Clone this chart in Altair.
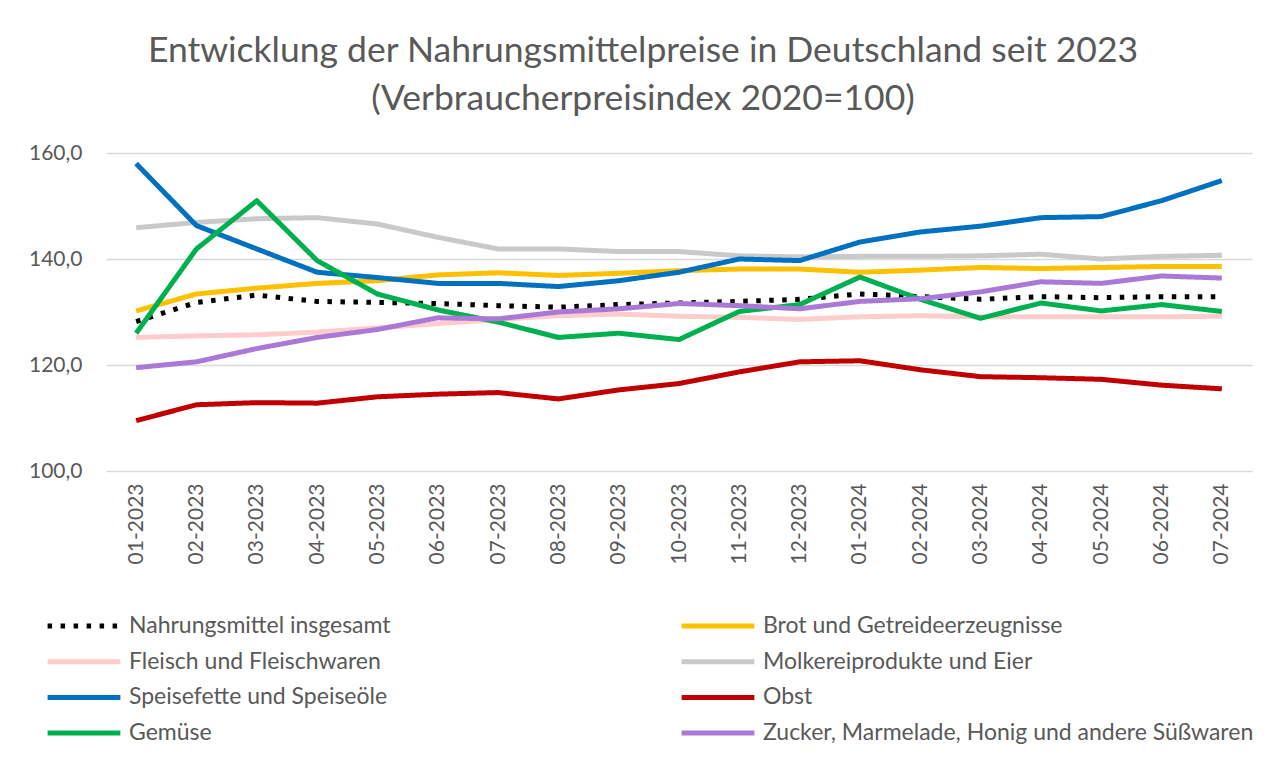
import altair as alt
import pandas as pd

months = ["01-2023", "02-2023", "03-2023", "04-2023", "05-2023", "06-2023", "07-2023",
          "08-2023", "09-2023", "10-2023", "11-2023", "12-2023", "01-2024", "02-2024",
          "03-2024", "04-2024", "05-2024", "06-2024", "07-2024"]

series_names = [
    "Nahrungsmittel insgesamt",
    "Brot und Getreideerzeugnisse",
    "Fleisch und Fleischwaren",
    "Molkereiprodukte und Eier",
    "Speisefette und Speiseöle",
    "Obst",
    "Gemüse",
    "Zucker, Marmelade, Honig und andere Süßwaren",
]

nahrungsmittel = [128.2, 131.8, 133.2, 132.0, 131.8, 131.6, 131.2, 130.9, 131.4, 131.7,
                  132.0, 132.4, 133.4, 132.9, 132.4, 132.9, 132.7, 132.9, 132.9]
brot = [130.2, 133.4, 134.5, 135.4, 135.9, 137.0, 137.4, 136.9, 137.3, 137.8,
        138.1, 138.1, 137.5, 137.9, 138.4, 138.2, 138.4, 138.6, 138.6]
fleisch = [125.2, 125.5, 125.7, 126.2, 127.0, 127.8, 128.6, 129.3, 129.6, 129.2,
           129.0, 128.6, 129.1, 129.3, 129.1, 129.1, 129.1, 129.1, 129.2]
molkerei = [145.9, 146.9, 147.6, 147.8, 146.6, 144.1, 141.9, 141.9, 141.4, 141.4,
            140.6, 140.4, 140.5, 140.5, 140.6, 140.9, 140.0, 140.5, 140.7]
speisefette = [158.0, 146.3, 141.9, 137.5, 136.5, 135.4, 135.4, 134.8, 135.9, 137.5,
               140.0, 139.7, 143.2, 145.1, 146.2, 147.8, 148.0, 151.0, 154.8]
obst = [109.5, 112.5, 112.9, 112.8, 114.0, 114.5, 114.8, 113.6, 115.3, 116.5,
        118.7, 120.6, 120.8, 119.1, 117.8, 117.6, 117.3, 116.2, 115.5]
gemuese = [126.0, 141.9, 151.0, 139.7, 133.4, 130.4, 128.1, 125.2, 126.0, 124.8,
           130.1, 131.4, 136.6, 132.4, 128.8, 131.7, 130.2, 131.4, 130.1]
zucker = [119.5, 120.6, 123.1, 125.2, 126.7, 128.9, 128.7, 130.0, 130.6, 131.6,
          131.2, 130.6, 132.0, 132.5, 133.8, 135.7, 135.4, 136.8, 136.4]

series_values = [nahrungsmittel, brot, fleisch, molkerei, speisefette, obst, gemuese, zucker]
colors = ["#000000", "#FFC000", "#FFCCCC", "#C9C9C9", "#0070C0", "#C00000", "#00B050", "#AA78D6"]
dashes = [[4.5, 8.5]] + [[1, 0]] * 7
y_ticks = [100, 120, 140, 160]

rows = []
for name, vals in zip(series_names, series_values):
    for m, v in zip(months, vals):
        rows.append({"Monat": m, "Reihe": name, "Wert": v})
df = pd.DataFrame(rows)

FONT = "Lato"
TXT = "#595959"

legend = alt.Legend(
    title=None,
    orient="none",
    direction="horizontal",
    legendX=-61,
    legendY=458,
    columns=2,
    columnPadding=288,
    rowPadding=5.7,
    clipHeight=30,
    symbolType="stroke",
    symbolSize=5300,
    symbolStrokeWidth=5,
    labelFont=FONT,
    labelFontSize=23,
    labelColor=TXT,
    labelLimit=600,
    labelOffset=6,
    padding=0,
)

chart = alt.Chart(df).mark_line(strokeWidth=5, strokeCap="butt", strokeJoin="round").encode(
    x=alt.X("Monat:N", sort=months, title=None,
            scale=alt.Scale(type="point", padding=0.5),
            axis=alt.Axis(labelAngle=-90, domain=False, ticks=False, labelPadding=12,
                          labelFont=FONT, labelFontSize=21, labelColor=TXT, grid=False)),
    y=alt.Y("Wert:Q", title=None,
            scale=alt.Scale(domain=[100, 160], nice=False, zero=False),
            axis=alt.Axis(values=y_ticks, domain=False, ticks=False, labelPadding=24,
                          labelFont=FONT, labelFontSize=21, labelColor=TXT,
                          gridColor="#D9D9D9", gridWidth=1.5,
                          labelExpr="replace(format(datum.value, '.1f'), '.', ',')")),
    color=alt.Color("Reihe:N", scale=alt.Scale(domain=series_names, range=colors), legend=legend),
    strokeDash=alt.StrokeDash("Reihe:N", scale=alt.Scale(domain=series_names, range=dashes), legend=legend),
).properties(
    width=1146,
    height=318,
    padding={"left": 98, "top": 145, "right": 25, "bottom": 290},
    autosize=alt.AutoSizeParams(type="none"),
    title=alt.TitleParams(
        text=["Entwicklung der Nahrungsmittelpreise in Deutschland seit 2023",
              "(Verbraucherpreisindex 2020=100)"],
        font=FONT, fontSize=35.5, fontWeight="normal", color=TXT,
        anchor="middle", frame="group", dx=-36, offset=25, lineHeight=48,
    ),
).configure_view(stroke=None)

chart.save("out.html", embed_options={"renderer": "svg", "actions": False})
